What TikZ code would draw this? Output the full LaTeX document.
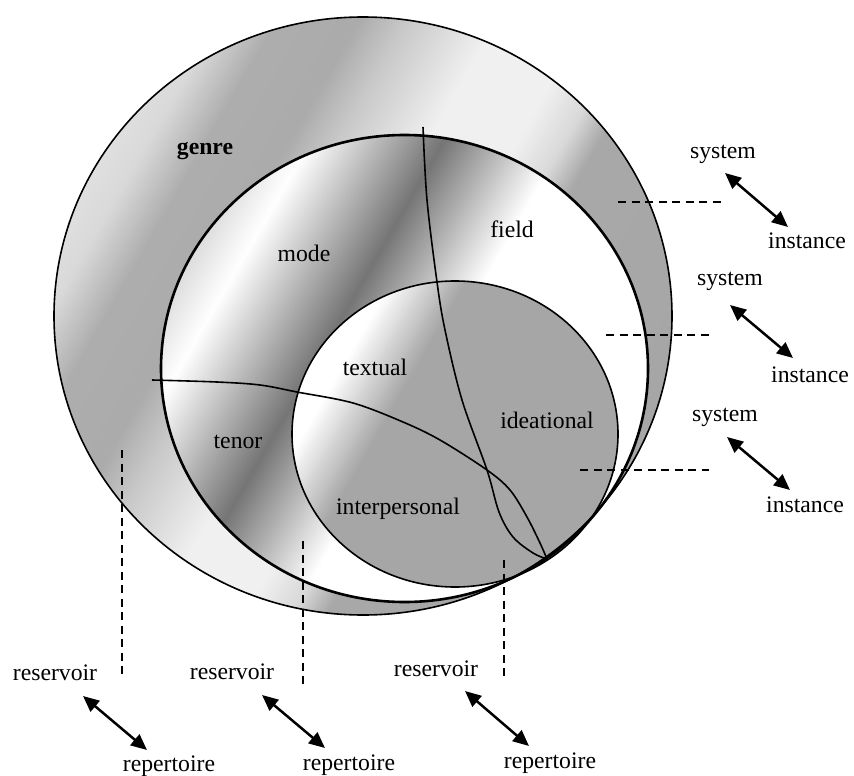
\documentclass[tikz,border=0pt]{standalone}
\usepackage{fontspec}
\setmainfont{Liberation Serif}
\usetikzlibrary{arrows.meta}

% Fill a band of the current (rotated) frame with a linear grey ramp,
% built from narrow overlapping strips.
% #1 start, #2 end (along the gradient axis), #3 start white %, #4 end white %
\newcommand\shadeband[4]{%
  \pgfmathtruncatemacro\bandN{max(1,round(abs(#2-#1)/1.5))}%
  \pgfmathsetmacro\bandD{(#2-#1)/\bandN}%
  \pgfmathsetmacro\bandC{(#4-#3)/\bandN}%
  \foreach \bandK in {1,...,\bandN}{%
    \pgfmathsetmacro\bandA{#1+\bandD*(\bandK-1)}%
    \pgfmathsetmacro\bandB{#1+\bandD*\bandK+0.8}%
    \pgfmathsetmacro\bandW{#3+\bandC*(\bandK-0.5)}%
    \fill[white!\bandW!black] (\bandA,-330) rectangle (\bandB,330);
  }%
}

\begin{document}
\begin{tikzpicture}[x=1pt,y=-1pt,
  lbl/.style={font=\fontsize{23.7}{28}\selectfont, inner sep=0pt, anchor=base},
  rim/.style={line width=1.6pt},
  rimthick/.style={line width=2.6pt},
  divider/.style={line width=1.6pt},
  guide/.style={line width=1.4pt, dash pattern=on 8pt off 5.5pt},
  dbl/.style={line width=2.5pt,
    {Triangle[length=16pt,width=14pt]}-{Triangle[length=16pt,width=14pt]}}]
\useasboundingbox (0,0) rectangle (854,776);

% ---- genre: outer ellipse
\begin{scope}
  \clip (363,316) ellipse [x radius=309pt, y radius=299pt];
  \begin{scope}[shift={(363,316)}, rotate=-30]
    \shadeband{-310}{-272}{88}{85}
    \shadeband{-272}{-222}{85}{68}
    \shadeband{-222}{-152}{68}{67}
    \shadeband{-152}{-112}{67}{78}
    \shadeband{-112}{-32}{78}{94}
    \shadeband{-32}{48}{94}{94}
    \shadeband{48}{88}{94}{85}
    \shadeband{88}{118}{85}{66}
    \shadeband{118}{312}{66}{65}
  \end{scope}
\end{scope}

% ---- register: middle ellipse
\begin{scope}
  \clip (404.5,368.5) ellipse [x radius=243.5pt, y radius=233.5pt];
  \begin{scope}[shift={(404.5,368.5)}, rotate=-30]
    \shadeband{-246}{-194.5}{85}{100}
    \shadeband{-194.5}{-79.5}{100}{46}
    \shadeband{-79.5}{25.5}{46}{100}
    \shadeband{25.5}{246}{100}{100}
  \end{scope}
\end{scope}

% ---- metafunctions: inner ellipse
\begin{scope}
  \clip (455,434) ellipse [x radius=163pt, y radius=153pt];
  \begin{scope}[shift={(455,434)}, rotate=-30]
    \shadeband{-166}{-131}{100}{100}
    \shadeband{-131}{-66}{100}{65}
    \shadeband{-66}{166}{65}{65}
  \end{scope}
\end{scope}

% ---- dividing curves
\draw[divider] plot[smooth, tension=0.55] coordinates
  {(423,127) (427,200) (437,282) (445,330) (462,400) (487,470)
   (499,512) (513,537) (533,553) (547,559)};
\draw[divider] plot[smooth, tension=0.55] coordinates
  {(152,380) (217,382) (260,385) (297,392) (353,403) (403,422)
   (440,440) (487,470) (510,490) (527,517) (540,543) (547,559)};

% ---- outlines
\draw[rim] (363,316) ellipse [x radius=309pt, y radius=299pt];
\draw[rimthick] (404.5,368.5) ellipse [x radius=243.5pt, y radius=233.5pt];
\draw[rim] (455,434) ellipse [x radius=163pt, y radius=153pt];

% ---- labels inside
\node[lbl] (genre) at (205,154) {\textbf{genre}};
\node[lbl] (mode) at (304,261) {mode};
\node[lbl] (field) at (512,237) {field};
\node[lbl] (textual) at (375,375) {textual};
\node[lbl] (tenor) at (238,448) {tenor};
\node[lbl] (interp) at (398,514) {interpersonal};
\node[lbl] (ideat) at (547,428) {ideational};

% ---- system / instance clines
\node[lbl] (sys1) at (723,158) {system};
\node[lbl] (ins1) at (807,248) {instance};
\node[lbl] (sys2) at (730,285) {system};
\node[lbl] (ins2) at (810,382) {instance};
\node[lbl] (sys3) at (725,421) {system};
\node[lbl] (ins3) at (805,512) {instance};

\coordinate (s1a) at (725,173); \coordinate (s1b) at (788,227);
\coordinate (s2a) at (730,305); \coordinate (s2b) at (793,358);
\coordinate (s3a) at (727,437); \coordinate (s3b) at (790,490);
\draw[dbl] (s1a) -- (s1b);
\draw[dbl] (s2a) -- (s2b);
\draw[dbl] (s3a) -- (s3b);

\coordinate (h1a) at (618,202); \coordinate (h1b) at (725,202);
\coordinate (h2a) at (606,335); \coordinate (h2b) at (709,335);
\coordinate (h3a) at (580,470); \coordinate (h3b) at (709,470);
\draw[guide] (h1a) -- (h1b);
\draw[guide] (h2a) -- (h2b);
\draw[guide] (h3a) -- (h3b);

% ---- reservoir / repertoire clines
\node[lbl] (res1) at (55,680) {reservoir};
\node[lbl] (rep1) at (169,771) {repertoire};
\node[lbl] (res2) at (232,679) {reservoir};
\node[lbl] (rep2) at (349,770) {repertoire};
\node[lbl] (res3) at (436,676) {reservoir};
\node[lbl] (rep3) at (550,768) {repertoire};

\coordinate (r1a) at (83,696);  \coordinate (r1b) at (147,750);
\coordinate (r2a) at (262,695); \coordinate (r2b) at (325,748);
\coordinate (r3a) at (465,691); \coordinate (r3b) at (529,746);
\draw[dbl] (r1a) -- (r1b);
\draw[dbl] (r2a) -- (r2b);
\draw[dbl] (r3a) -- (r3b);

\coordinate (v1a) at (122,450); \coordinate (v1b) at (122,678);
\coordinate (v2a) at (303,541); \coordinate (v2b) at (303,688);
\coordinate (v3a) at (504,560); \coordinate (v3b) at (504,678);
\draw[guide] (v1a) -- (v1b);
\draw[guide] (v2a) -- (v2b);
\draw[guide] (v3a) -- (v3b);
\end{tikzpicture}
\end{document}
